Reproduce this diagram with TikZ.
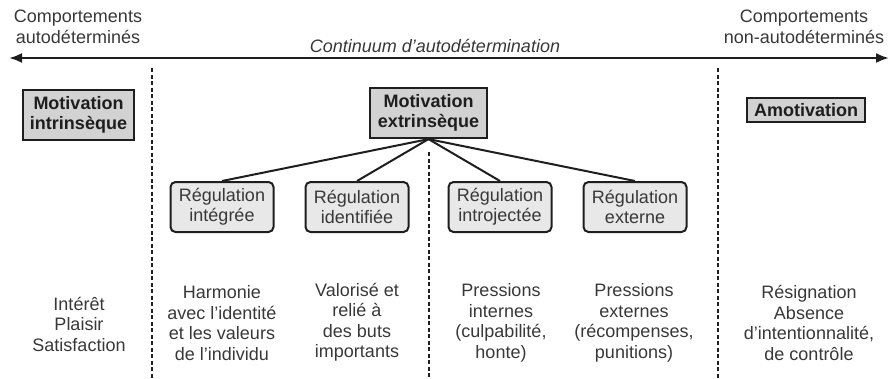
\documentclass[tikz,border=0pt]{standalone}
\usepackage{fontspec}
\setmainfont{Liberation Sans}
\usetikzlibrary{arrows.meta}
\definecolor{txtgray}{HTML}{383838}
\definecolor{boxdark}{HTML}{D2D2D2}
\definecolor{boxlight}{HTML}{E8E8E8}
\definecolor{edge}{HTML}{1E1E1E}
\tikzset{
  lbl/.style={text=txtgray, align=center, font=\fontsize{18}{20.5}\selectfont, inner sep=0pt},
  mainbox/.style={draw=edge, line width=2.2pt, fill=boxdark, align=center, text=edge,
    font=\fontsize{18}{20}\selectfont\bfseries, inner sep=0pt},
  regbox/.style={draw=edge, line width=2pt, fill=boxlight, rounded corners=5pt, align=center,
    text=txtgray, font=\fontsize{18}{20}\selectfont, minimum width=103pt, minimum height=50pt, inner sep=0pt},
  sep/.style={draw=edge, line width=2.8pt, dash pattern=on 4pt off 2.5pt},
  link/.style={draw=edge, line width=2pt},
}
\begin{document}
\begin{tikzpicture}[x=1pt,y=-1pt]
\useasboundingbox (0,0) rectangle (890,378);
% top labels
\node[lbl] (left) at (78,27) {Comportements\\autodéterminés};
\node[lbl] (right) at (804,27) {Comportements\\non-autodéterminés};
\node[lbl, font=\fontsize{18}{20}\selectfont\itshape] (cont) at (435,46) {Continuum d’autodétermination};
% arrow
\coordinate (aL) at (9,58);
\coordinate (aR) at (889,58);
\draw[line width=2.2pt, draw=edge, {Latex[length=13pt,width=10pt]}-{Latex[length=13pt,width=10pt]}] (aL) -- (aR);
% separators
\coordinate (s1t) at (152,68); \coordinate (s1b) at (152,378);
\coordinate (s2t) at (429,152); \coordinate (s2b) at (429,378);
\coordinate (s3t) at (718,68); \coordinate (s3b) at (718,378);
\draw[sep] (s1t) -- (s1b);
\draw[sep] (s2t) -- (s2b);
\draw[sep] (s3t) -- (s3b);
% main boxes
\node[mainbox, minimum width=111pt, minimum height=50pt] (intr) at (78.5,115) {Motivation\\intrinsèque};
\node[mainbox, minimum width=117pt, minimum height=50pt] (extr) at (428.5,113) {Motivation\\extrinsèque};
\node[mainbox, minimum width=118pt, minimum height=24pt] (amot) at (806,110) {Amotivation};
% regulation boxes
\node[regbox] (r1) at (222,207) {Régulation\\intégrée};
\node[regbox] (r2) at (357,207) {Régulation\\identifiée};
\node[regbox] (r3) at (500,207) {Régulation\\introjectée};
\node[regbox] (r4) at (635,207) {Régulation\\externe};
\draw[link] (extr.south) -- (r1.north);
\draw[link] (extr.south) -- (r2.north);
\draw[link] (extr.south) -- (r3.north);
\draw[link] (extr.south) -- (r4.north);
% bottom descriptions
\node[lbl] (d0) at (79,324) {Intérêt\\Plaisir\\Satisfaction};
\node[lbl] (d1) at (222,323) {Harmonie\\avec l’identité\\et les valeurs\\de l’individu};
\node[lbl] (d2) at (357,322) {Valorisé et\\relié à\\des buts\\importants};
\node[lbl] (d3) at (501,323) {Pressions\\internes\\(culpabilité,\\honte)};
\node[lbl] (d4) at (634,323) {Pressions\\externes\\(récompenses,\\punitions)};
\node[lbl] (d5) at (809,323) {Résignation\\Absence\\d’intentionnalité,\\de contrôle};
\end{tikzpicture}
\end{document}
